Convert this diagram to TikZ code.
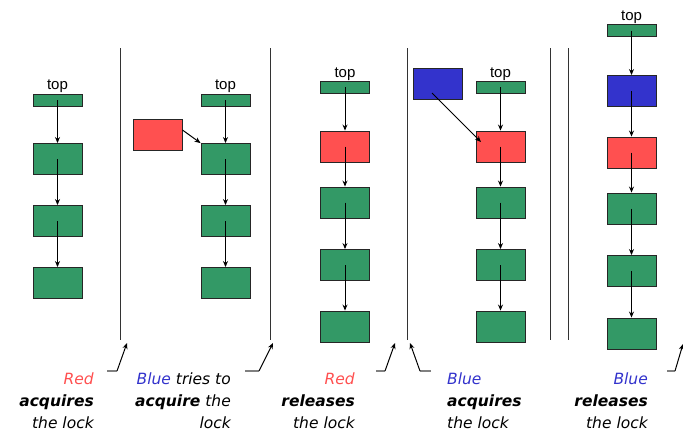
\documentclass[tikz,border=0pt]{standalone}
\usepackage{fontspec}
\setmainfont{DejaVu Sans}
\newfontfamily\topfont{Liberation Sans}
\usetikzlibrary{arrows.meta}
\definecolor{gbox}{HTML}{339966}
\definecolor{rbox}{HTML}{FF5050}
\definecolor{bbox}{HTML}{3333CC}
\begin{document}
\begin{tikzpicture}[x=1pt,y=-1pt,
  boxbase/.style={draw=black!85,line width=0.9pt,inner sep=0pt,minimum width=49pt},
  gnode/.style={boxbase,fill=gbox,minimum height=31pt},
  rnode/.style={boxbase,fill=rbox,minimum height=31pt},
  bnode/.style={boxbase,fill=bbox,minimum height=31pt},
  topbar/.style={boxbase,fill=gbox,minimum height=12pt},
  toplbl/.style={font=\topfont\fontsize{15}{15}\selectfont,inner sep=0pt,anchor=base},
  link/.style={draw=black,line width=1pt,-{Stealth[length=6pt,width=5pt]}},
  sep/.style={draw=black!80,line width=1pt},
  elbow/.style={draw=gray,line width=1.3pt},
  pointer/.style={draw=black,line width=1pt,-{Stealth[length=6pt,width=5pt]}},
  lbl/.style={font=\fontsize{15.5}{15.5}\selectfont\itshape,inner sep=0pt}
]
\useasboundingbox (0,0) rectangle (683,432);
% ---------- column 1
\node[toplbl] (t1l) at (57.5,89) {top};
\node[topbar] (t1) at (57.5,100) {};
\node[gnode] (c1a) at (57.5,159) {};
\node[gnode] (c1b) at (57.5,221) {};
\node[gnode] (c1c) at (57.5,283) {};
\draw[link] (t1.center) -- (c1a.north);
\draw[link] (c1a.center) -- (c1b.north);
\draw[link] (c1b.center) -- (c1c.north);
% ---------- column 2
\node[toplbl] (t2l) at (225.5,89) {top};
\node[topbar] (t2) at (225.5,100) {};
\node[gnode] (c2a) at (225.5,159) {};
\node[gnode] (c2b) at (225.5,221) {};
\node[gnode] (c2c) at (225.5,283) {};
\node[rnode] (r2) at (157.5,134.5) {};
\draw[link] (t2.center) -- (c2a.north);
\draw[link] (c2a.center) -- (c2b.north);
\draw[link] (c2b.center) -- (c2c.north);
\draw[link] (r2.east |- 0,130) -- (c2a.north west);
% ---------- column 3
\node[toplbl] (t3l) at (345,77) {top};
\node[topbar] (t3) at (345,87) {};
\node[rnode] (r3) at (345,146.5) {};
\node[gnode] (c3a) at (345,202.5) {};
\node[gnode] (c3b) at (345,265) {};
\node[gnode] (c3c) at (345,326.5) {};
\draw[link] (t3.center) -- (r3.north);
\draw[link] (r3.center) -- (c3a.north);
\draw[link] (c3a.center) -- (c3b.north);
\draw[link] (c3b.center) -- (c3c.north);
% ---------- column 4
\node[toplbl] (t4l) at (500.5,77) {top};
\node[topbar] (t4) at (500.5,87) {};
\node[rnode] (r4) at (500.5,146.5) {};
\node[gnode] (c4a) at (500.5,202.5) {};
\node[gnode] (c4b) at (500.5,265) {};
\node[gnode] (c4c) at (500.5,326.5) {};
\node[bnode] (b4) at (438,83.5) {};
\draw[link] (t4.center) -- (r4.north);
\draw[link] (r4.center) -- (c4a.north);
\draw[link] (c4a.center) -- (c4b.north);
\draw[link] (c4b.center) -- (c4c.north);
\coordinate (b4s) at (432,93);
\coordinate (r4e) at (481,142);
\draw[link] (b4s) -- (r4e);
% ---------- column 5
\node[toplbl] (t5l) at (631.5,20) {top};
\node[topbar] (t5) at (631.5,30.5) {};
\node[bnode] (b5) at (631.5,91) {};
\node[rnode] (r5) at (631.5,152.5) {};
\node[gnode] (c5a) at (631.5,208.5) {};
\node[gnode] (c5b) at (631.5,271) {};
\node[gnode] (c5c) at (631.5,333.5) {};
\draw[link] (t5.center) -- (b5.north);
\draw[link] (b5.center) -- (r5.north);
\draw[link] (r5.center) -- (c5a.north);
\draw[link] (c5a.center) -- (c5b.north);
\draw[link] (c5b.center) -- (c5c.north);
% ---------- separators
\coordinate (s1a) at (120,48); \coordinate (s1b) at (120,340);
\coordinate (s2a) at (270,48); \coordinate (s2b) at (270,340);
\coordinate (s3a) at (407,48); \coordinate (s3b) at (407,340);
\coordinate (s4a) at (550,48); \coordinate (s4b) at (550,340);
\coordinate (s5a) at (568.5,48); \coordinate (s5b) at (568.5,340);
\draw[sep] (s1a) -- (s1b);
\draw[sep] (s2a) -- (s2b);
\draw[sep] (s3a) -- (s3b);
\draw[sep] (s4a) -- (s4b);
\draw[sep] (s5a) -- (s5b);
% ---------- pointers
\coordinate (p1a) at (107,371); \coordinate (p1b) at (117,371); \coordinate (p1c) at (127,343);
\draw[elbow] (p1a) -- (p1b);
\draw[pointer] (p1b) -- (p1c);
\coordinate (p2a) at (245,371); \coordinate (p2b) at (259,371); \coordinate (p2c) at (273,343);
\draw[elbow] (p2a) -- (p2b);
\draw[pointer] (p2b) -- (p2c);
\coordinate (p3a) at (376,371); \coordinate (p3b) at (385,371); \coordinate (p3c) at (395,343);
\draw[elbow] (p3a) -- (p3b);
\draw[pointer] (p3b) -- (p3c);
\coordinate (p4a) at (431,371); \coordinate (p4b) at (420,371); \coordinate (p4c) at (410,343);
\draw[elbow] (p4a) -- (p4b);
\draw[pointer] (p4b) -- (p4c);
\coordinate (p5a) at (667,371); \coordinate (p5b) at (675,371); \coordinate (p5c) at (683,344);
\draw[elbow] (p5a) -- (p5b);
\draw[pointer] (p5b) -- (p5c);
% ---------- captions
\node[lbl,anchor=base east] (l1a) at (94,384) {\textcolor{rbox}{Red}};
\node[lbl,anchor=base east] (l1b) at (94,406) {\textbf{acquires}};
\node[lbl,anchor=base east] (l1c) at (94,428) {the lock};
\node[lbl,anchor=base east] (l2a) at (231,384) {\textcolor{bbox}{Blue} tries to};
\node[lbl,anchor=base east] (l2b) at (231,406) {\textbf{acquire} the};
\node[lbl,anchor=base east] (l2c) at (231,428) {lock};
\node[lbl,anchor=base east] (l3a) at (355,384) {\textcolor{rbox}{Red}};
\node[lbl,anchor=base east] (l3b) at (355,406) {\textbf{releases}};
\node[lbl,anchor=base east] (l3c) at (355,428) {the lock};
\node[lbl,anchor=base west] (l4a) at (447,384) {\textcolor{bbox}{Blue}};
\node[lbl,anchor=base west] (l4b) at (447,406) {\textbf{acquires}};
\node[lbl,anchor=base west] (l4c) at (447,428) {the lock};
\node[lbl,anchor=base east] (l5a) at (648,384) {\textcolor{bbox}{Blue}};
\node[lbl,anchor=base east] (l5b) at (648,406) {\textbf{releases}};
\node[lbl,anchor=base east] (l5c) at (648,428) {the lock};
\end{tikzpicture}
\end{document}
